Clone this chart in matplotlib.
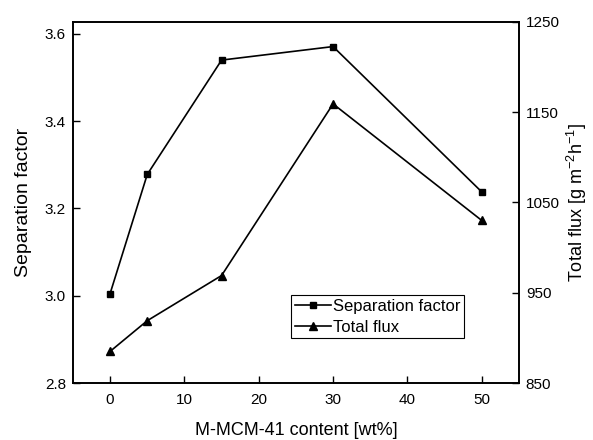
import numpy as np
import matplotlib
matplotlib.use("Agg")
import matplotlib.pyplot as plt

plt.rcParams.update({
    "font.family": ["Liberation Sans", "DejaVu Sans"],
    "font.size": 11,
    "mathtext.default": "regular",
    "xtick.direction": "in",
    "ytick.direction": "in",
})

# data
content = [0, 5, 15, 30, 50]
sep_factor = [3.005, 3.278, 3.540, 3.571, 3.238]
total_flux = [885, 919, 969, 1159, 1030]

fig = plt.figure(figsize=(5.93, 4.40), dpi=100)
ax = fig.add_axes([0.123, 0.1295, 0.752, 0.8212])
ax2 = ax.twinx()

l1, = ax.plot(content, sep_factor, color='black', lw=1.2, marker='s', ms=5,
              label='Separation factor')
l2, = ax2.plot(content, total_flux, color='black', lw=1.2, marker='^', ms=6,
               label='Total flux')

ax.set_xlim(-5, 55)
ax.set_ylim(2.8, 3.628)
ax2.set_ylim(850, 1250)
ax.set_xticks([0, 10, 20, 30, 40, 50])
ax.set_yticks([2.8, 3.0, 3.2, 3.4, 3.6])
ax.set_yticklabels(['2.8', '3.0', '3.2', '3.4', '3.6'])
ax2.set_yticks([850, 950, 1050, 1150, 1250])

ax.tick_params(axis='both', length=5, width=1, pad=5, top=False)
ax.tick_params(axis='y', right=False)
ax.tick_params(axis='x', pad=7)
ax2.tick_params(axis='y', length=5, width=1, pad=5)
for a in (ax, ax2):
    for s in a.spines.values():
        s.set_linewidth(1.2)

ax.set_xlabel('M-MCM-41 content [wt%]', fontsize=13, labelpad=11)
ax.set_ylabel('Separation factor', fontsize=14, labelpad=9)
ax2.set_ylabel('Total flux [g m$^{-2}$h$^{-1}$]', fontsize=13, labelpad=4)

leg = ax.legend(handles=[l1, l2], loc='lower left', bbox_to_anchor=(0.49, 0.125),
                borderaxespad=0, fancybox=False, framealpha=1, edgecolor='black',
                fontsize=12, handlelength=2.2, handletextpad=0.1, borderpad=0.2,
                labelspacing=0.35)
leg.get_frame().set_linewidth(0.8)

plt.savefig('out.png', dpi=100)
